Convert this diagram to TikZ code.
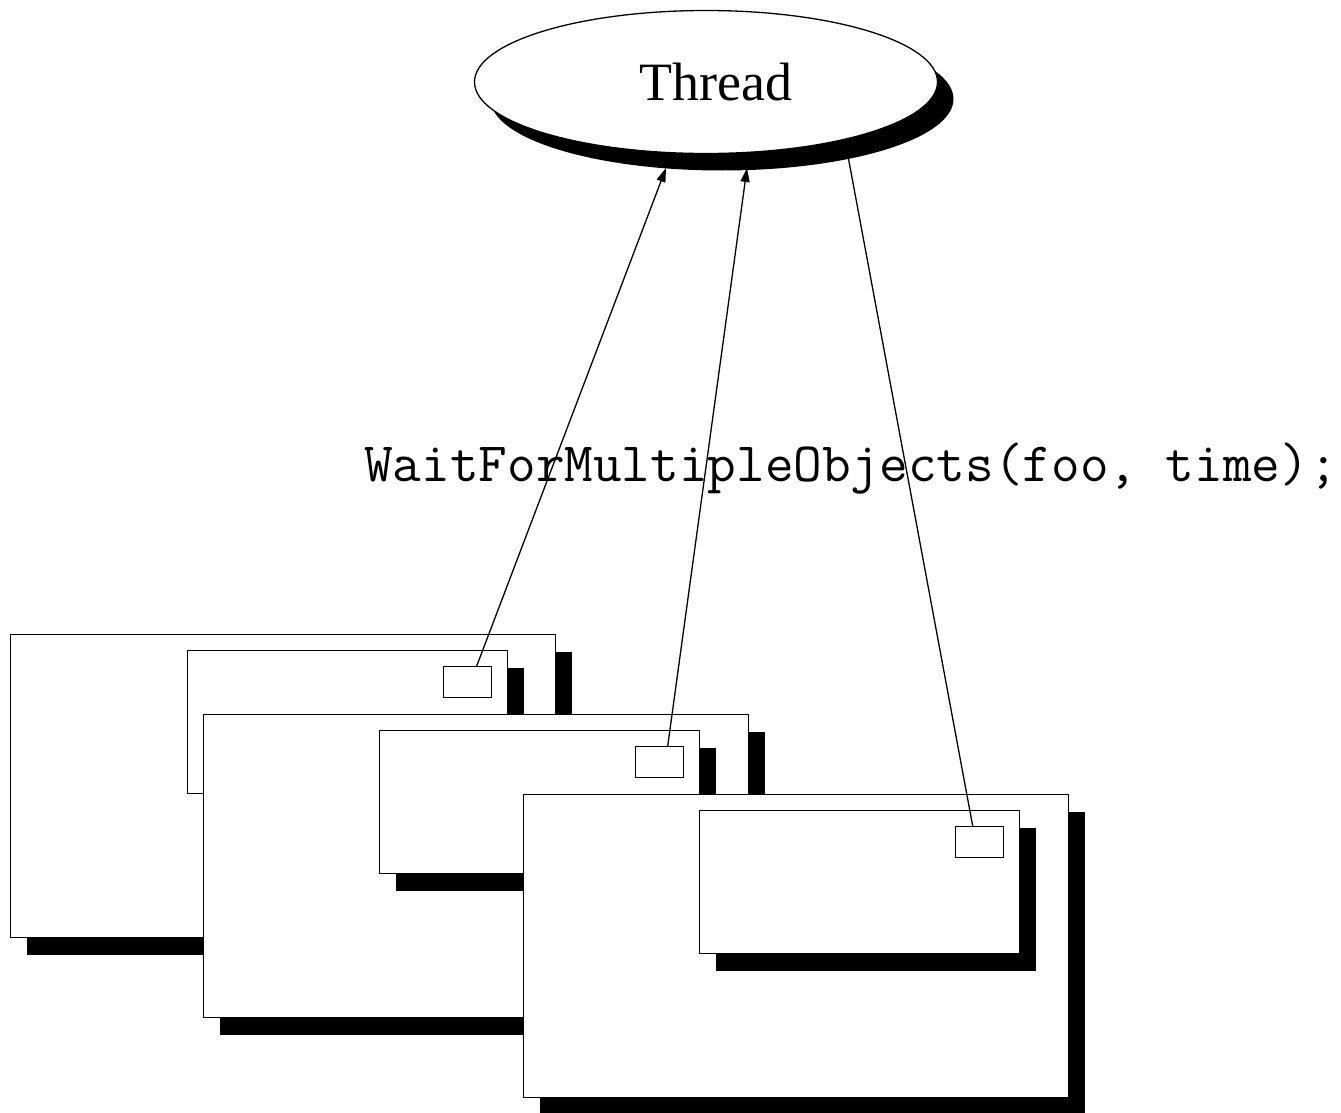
\documentclass[tikz,border=0pt]{standalone}
\usepackage{fontspec}
\setmainfont{Liberation Serif}
\usetikzlibrary{arrows.meta, shapes.geometric, shadows}

\tikzset{
	shade/.style={drop shadow={opacity=1, fill=black, shadow xshift=16pt, shadow yshift=-17pt}},
	win/.style={draw, fill=white, line width=1.4pt, inner sep=0pt, anchor=north west, shade,
		minimum width=545pt, minimum height=303pt},
	subwin/.style={draw, fill=white, line width=1.4pt, inner sep=0pt, anchor=north west, shade,
		minimum width=320pt, minimum height=143pt},
	obj/.style={draw, fill=white, line width=1.4pt, inner sep=0pt, anchor=north west,
		minimum width=48pt, minimum height=31pt},
	call/.style={line width=1.3pt, -{Triangle[length=14pt, width=9pt]}}
}

\begin{document}
\begin{tikzpicture}[x=1pt, y=-1pt]
		\useasboundingbox (0,0) rectangle (1341,1113);

		\node[draw, fill=white, ellipse, line width=1.3pt, inner sep=0pt, shade,
			minimum width=463pt, minimum height=143pt, font=\fontsize{54}{60}\selectfont]
			(thread) at (706,82) {\hspace{20pt}Thread};

		\node[anchor=base west, inner sep=0pt, font=\ttfamily\fontsize{55.6}{60}\selectfont]
			(wait) at (364,481) {WaitForMultipleObjects(foo, time);};

		\node[win] (winA) at (10,634) {};
		\node[subwin] (subA) at (187,650) {};
		\node[obj] (objA) at (443,666) {};

		\node[win] (winB) at (203,714) {};
		\node[subwin] (subB) at (379,730) {};
		\node[obj] (objB) at (635,746) {};

		\node[win] (winC) at (523,794) {};
		\node[subwin] (subC) at (699,810) {};
		\node[obj] (objC) at (955,826) {};

		\coordinate (tipA) at (666,168);
		\coordinate (tipB) at (747,168);
		\coordinate (tipC) at (845,140);

		\draw[call] ([xshift=9pt]objA.north) -- (tipA);
		\draw[call] ([xshift=8pt]objB.north) -- (tipB);
		\draw[call] ([xshift=-7pt]objC.north) -- (tipC);
	\end{tikzpicture}
\end{document}
